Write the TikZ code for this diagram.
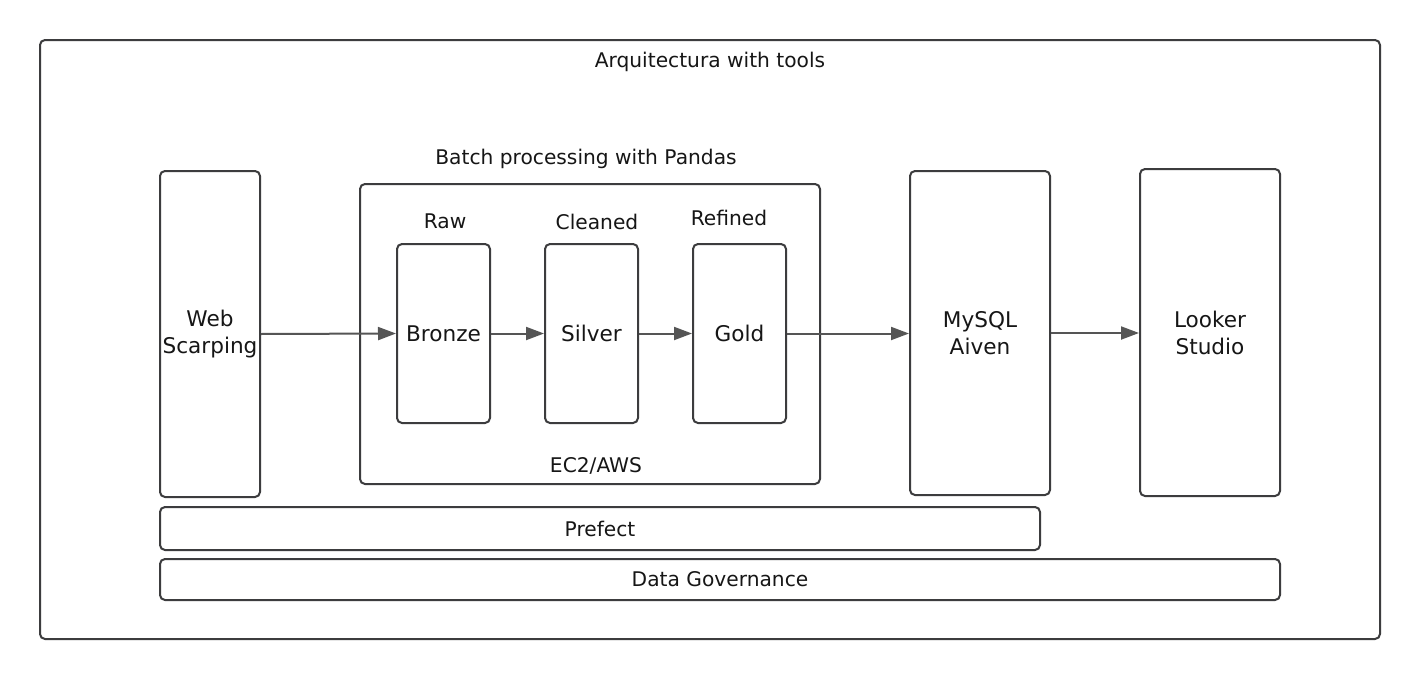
\documentclass[tikz,border=0pt]{standalone}
\usepackage{fontspec}
\setmainfont{DejaVu Sans}
\usetikzlibrary{arrows.meta}
\definecolor{boxc}{HTML}{3C3C3E}
\definecolor{arrc}{HTML}{555555}
\definecolor{txtc}{HTML}{161616}
\tikzset{
  boxnode/.style={draw=boxc, line width=1pt, rounded corners=2.5pt, fill=white, inner sep=0pt, align=center, text=txtc, font=\fontsize{10.8pt}{13.5pt}\selectfont},
  lbl/.style={text=txtc, inner sep=0pt, align=center, font=\fontsize{10.1pt}{12.5pt}\selectfont},
  arr/.style={draw=arrc, line width=1pt, -{Triangle[length=9pt,width=6.5pt]}}
}
\begin{document}
\begin{tikzpicture}[x=0.5pt,y=-0.5pt]
\useasboundingbox (0,0) rectangle (1420,680);
\fill[white] (0,0) rectangle (1420,680);
% outer frame
\node[boxnode, minimum width=670pt, minimum height=299.5pt] (outer) at (710,339.5) {};
\node[lbl] (title) at (710,62) {Arquitectura with tools};
% web scraping
\node[boxnode, minimum width=50pt, minimum height=163pt] (web) at (210,334) {Web\\Scarping};
% EC2 container
\node[boxnode, minimum width=230pt, minimum height=150pt] (ec2) at (590,334) {};
\node[lbl] (batch) at (586,159) {Batch processing with Pandas};
\node[lbl] (ec2lbl) at (596,466) {EC2/AWS};
% layers
\node[boxnode, minimum width=46.5pt, minimum height=89.5pt] (bronze) at (443.5,333.5) {Bronze};
\node[boxnode, minimum width=46.5pt, minimum height=89.5pt] (silver) at (591.5,333.5) {Silver};
\node[boxnode, minimum width=46.5pt, minimum height=89.5pt] (gold) at (739.5,333.5) {Gold};
\node[lbl] (raw) at (445,221) {Raw};
\node[lbl] (cleaned) at (597,222) {Cleaned};
\node[lbl] (refined) at (729,218) {Refined};
% targets
\node[boxnode, minimum width=70pt, minimum height=162pt] (mysql) at (980,333) {MySQL\\Aiven};
\node[boxnode, minimum width=70pt, minimum height=163.5pt] (looker) at (1210,332.5) {Looker\\Studio};
% bars
\node[boxnode, minimum width=440pt, minimum height=21.5pt, font=\fontsize{10.1pt}{12.5pt}\selectfont] (prefect) at (600,528.5) {Prefect};
\node[boxnode, minimum width=560pt, minimum height=20.5pt, font=\fontsize{10.1pt}{12.5pt}\selectfont] (gov) at (720,579.5) {Data Governance};
% arrows
\draw[arr] (web.east) -- (bronze.west);
\draw[arr] (bronze.east) -- (silver.west);
\draw[arr] (silver.east) -- (gold.west);
\draw[arr] (gold.east) -- (gold.east -| mysql.west);
\draw[arr] (mysql.east) -- (mysql.east -| looker.west);
\end{tikzpicture}
\end{document}
